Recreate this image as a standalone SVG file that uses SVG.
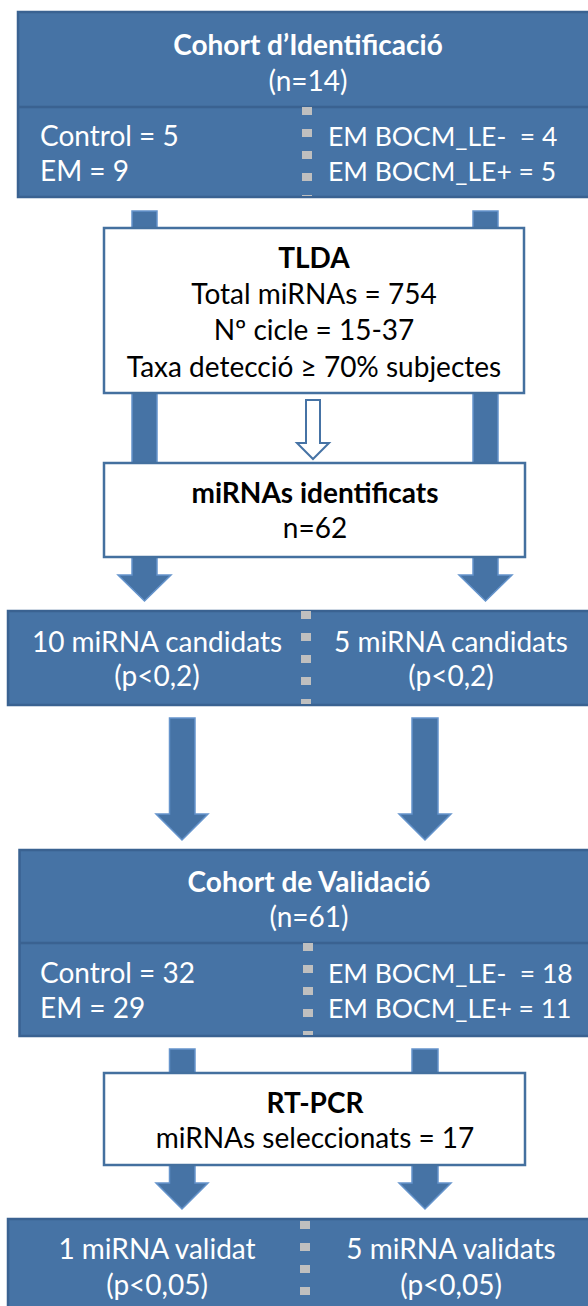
<svg xmlns="http://www.w3.org/2000/svg" width="588" height="1306" viewBox="0 0 588 1306">
  <style>
    .band { fill: #4673a5; stroke: #3a6291; stroke-width: 2.5; }
    .rule { stroke: #3a6291; stroke-width: 2.5; }
    .card { fill: #ffffff; stroke: #44709f; stroke-width: 2.5; }
    .sep { stroke: #bfbfbf; stroke-width: 10; fill: none; stroke-dasharray: 8 14; }
    .arrow { fill: #4673a5; stroke: #6594cc; stroke-width: 1.5; }
    .hollow { fill: #ffffff; stroke: #4673a5; stroke-width: 2; }
    text { font-family: Lato, "Liberation Sans", sans-serif; font-size: 28px; }
    .w { fill: #ffffff; }
    .k { fill: #000000; }
    .b { font-weight: bold; }
    .c { text-anchor: middle; }
    .n { font-size: 26.5px; }
  </style>

  <!-- connectors: block arrows between stages -->
  <g id="connectors">
    <path class="arrow" d="M132 211H157V575H171L144.5 601L118 575H132Z"/>
    <path class="arrow" d="M473 211H498V575H512L485.5 601L459 575H473Z"/>
    <path class="hollow" d="M306 400H320V443H329L313 459L297 443H306Z"/>
    <path class="arrow" d="M169.5 718H195V814H208L182 840L156 814H169.5Z"/>
    <path class="arrow" d="M412 718H438V814H451L425 840L399 814H412Z"/>
    <path class="arrow" d="M169.5 1049H195V1183H208L182 1209L156 1183H169.5Z"/>
    <path class="arrow" d="M412 1049H438V1183H451L425 1209L399 1183H412Z"/>
  </g>

  <!-- identification cohort -->
  <g id="cohort-identificacio">
    <rect class="band" x="18" y="12" width="600" height="185"/>
    <line class="rule" x1="18" y1="107" x2="618" y2="107"/>
    <line class="sep" x1="307" y1="107" x2="307" y2="196"/>
    <text class="w b c" x="308" y="55">Cohort d’Identificació</text>
    <text class="w c" x="308" y="91">(n=14)</text>
    <text class="w" x="40" y="146">Control = 5</text>
    <text class="w" x="40" y="181">EM = 9</text>
    <text class="w n" x="328" y="146" xml:space="preserve">EM BOCM_LE-  = 4</text>
    <text class="w n" x="328" y="181">EM BOCM_LE+ = 5</text>
  </g>

  <!-- TLDA step -->
  <g id="tlda">
    <rect class="card" x="104" y="228" width="420" height="165"/>
    <text class="k b c" x="314" y="268">TLDA</text>
    <text class="k c" x="314" y="304">Total miRNAs = 754</text>
    <text class="k c" x="314" y="340">Nº cicle = 15-37</text>
    <text class="k c" x="314" y="377">Taxa detecció ≥ 70% subjectes</text>
  </g>

  <!-- identified miRNAs -->
  <g id="mirnas-identificats">
    <rect class="card" x="104" y="463" width="421" height="94"/>
    <text class="k b c" x="315" y="503">miRNAs identificats</text>
    <text class="k c" x="315" y="538">n=62</text>
  </g>

  <!-- candidates -->
  <g id="candidats">
    <rect class="band" x="8" y="611" width="610" height="94"/>
    <line class="sep" x1="306" y1="611" x2="306" y2="704"/>
    <text class="w c" x="157" y="652">10 miRNA candidats</text>
    <text class="w c" x="157" y="686">(p&lt;0,2)</text>
    <text class="w c" x="451" y="652">5 miRNA candidats</text>
    <text class="w c" x="451" y="686">(p&lt;0,2)</text>
  </g>

  <!-- validation cohort -->
  <g id="cohort-validacio">
    <rect class="band" x="19.5" y="850" width="600" height="186"/>
    <line class="rule" x1="19.5" y1="943" x2="619" y2="943"/>
    <line class="sep" x1="308" y1="943" x2="308" y2="1035"/>
    <text class="w b c" x="309" y="892">Cohort de Validació</text>
    <text class="w c" x="309" y="927">(n=61)</text>
    <text class="w" x="40" y="983">Control = 32</text>
    <text class="w" x="40" y="1018">EM = 29</text>
    <text class="w n" x="328" y="983" xml:space="preserve">EM BOCM_LE-  = 18</text>
    <text class="w n" x="328" y="1018">EM BOCM_LE+ = 11</text>
  </g>

  <!-- RT-PCR step -->
  <g id="rt-pcr">
    <rect class="card" x="104" y="1073" width="421" height="92"/>
    <text class="k b c" x="315" y="1113">RT-PCR</text>
    <text class="k c" x="315" y="1148">miRNAs seleccionats = 17</text>
  </g>

  <!-- validated miRNAs -->
  <g id="validats">
    <rect class="band" x="8" y="1219" width="610" height="110"/>
    <line class="sep" x1="305" y1="1221" x2="305" y2="1306"/>
    <text class="w c" x="157" y="1259">1 miRNA validat</text>
    <text class="w c" x="157" y="1295">(p&lt;0,05)</text>
    <text class="w c" x="451" y="1259">5 miRNA validats</text>
    <text class="w c" x="451" y="1295">(p&lt;0,05)</text>
  </g>
</svg>
